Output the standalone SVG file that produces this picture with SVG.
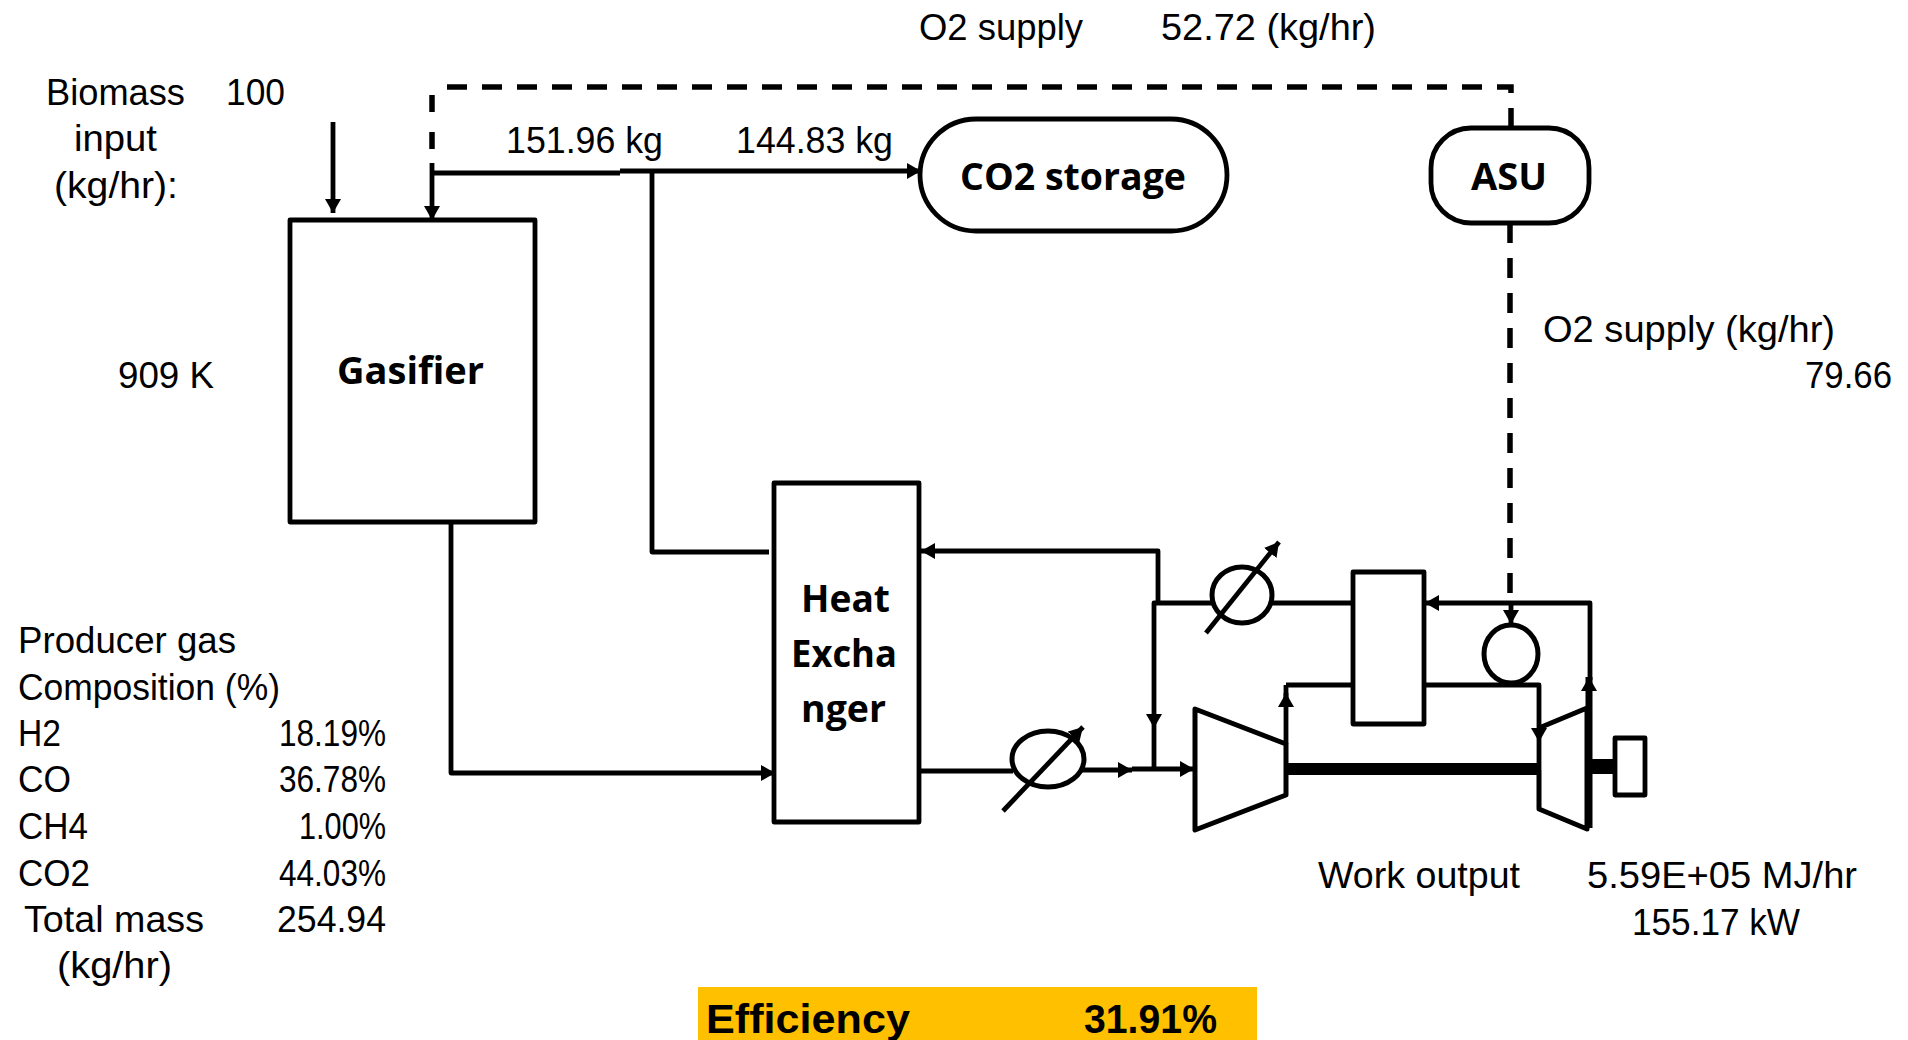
<svg xmlns="http://www.w3.org/2000/svg" width="1908" height="1040" viewBox="0 0 1908 1040">
<style>
.n{fill:#fff;stroke:#000;stroke-width:4.8;stroke-linejoin:round}
.h{fill:none;stroke:#000;stroke-width:5;stroke-linejoin:round}
.c{fill:none;stroke:#000;stroke-width:4.8;stroke-linejoin:round}
.d{fill:none;stroke:#000;stroke-width:5.5;stroke-dasharray:20 15}
.t{font-family:"Liberation Sans",sans-serif;font-size:37px;fill:#000}
.b{font-family:"Open Sans",sans-serif;font-size:38px;font-weight:700;fill:#000}
.e{font-family:"Liberation Sans",sans-serif;font-size:41px;font-weight:700;fill:#000}
</style>
<defs>
<marker id="a" markerUnits="userSpaceOnUse" markerWidth="16" markerHeight="16" refX="14" refY="8" orient="auto"><path d="M0 0L14 8L0 16Z" fill="#000"/></marker>
</defs>
<g id="connectors">
<path class="d" d="M1511 128V87H441"/>
<path class="d" style="stroke-dasharray:17 20" d="M432 95V165"/>
<path class="c" d="M432 163V220" marker-end="url(#a)"/>
<path class="c" d="M333 122V213" marker-end="url(#a)"/>
<path class="c" d="M432 173H620"/>
<path class="c" d="M620 171H921" marker-end="url(#a)"/>
<path class="c" d="M652 172V552H769"/>
<path class="c" d="M451 522V773H775" marker-end="url(#a)"/>
<path class="c" d="M1158 603V551H921" marker-end="url(#a)"/>
<path class="c" d="M1213 603H1154V728" marker-end="url(#a)"/>
<path class="c" d="M1154 728V768"/>
<path class="c" d="M919 771H1013"/>
<path class="c" d="M1082 770H1132" marker-end="url(#a)"/>
<path class="c" d="M1132 769H1194" marker-end="url(#a)"/>
<path class="d" d="M1510 223V593"/>
<path class="c" d="M1511 605V624" marker-end="url(#a)"/>
<path class="c" d="M1271 603H1353"/>
<path class="c" d="M1590 680V603H1425" marker-end="url(#a)"/>
<path class="c" d="M1286 744V693" marker-end="url(#a)"/>
<path class="c" d="M1286 685V700M1286 685H1353"/>
<path class="c" d="M1424 685H1539V742" marker-end="url(#a)"/>
<path class="c" d="M1539 742V770"/>
<path d="M1589 828V677" fill="none" stroke="#000" stroke-width="7" marker-end="url(#a)"/>
<path d="M1286 769H1540" fill="none" stroke="#000" stroke-width="12"/>
<path d="M1590 766.500H1615" fill="none" stroke="#000" stroke-width="15"/>
</g>
<g id="gasifier"><rect class="n" x="290" y="220" width="245" height="302"/><text class="b" x="337" y="384" textLength="147" lengthAdjust="spacingAndGlyphs">Gasifier</text></g>
<g id="co2-storage"><rect class="n" x="920" y="119" width="307" height="112" rx="56"/><text class="b" x="960" y="190" textLength="226" lengthAdjust="spacingAndGlyphs">CO2 storage</text></g>
<g id="asu"><rect class="n" x="1431" y="128" width="158" height="95" rx="40"/><text class="b" x="1471" y="190" textLength="76" lengthAdjust="spacingAndGlyphs">ASU</text></g>
<g id="heat-exchanger"><rect class="n" x="774" y="483" width="145" height="339"/>
<text class="b" x="801" y="612" textLength="89" lengthAdjust="spacingAndGlyphs">Heat</text>
<text class="b" x="791" y="667" textLength="106" lengthAdjust="spacingAndGlyphs">Excha</text>
<text class="b" x="801" y="722" textLength="85" lengthAdjust="spacingAndGlyphs">nger</text></g>
<g id="cooler-1"><ellipse class="h" cx="1048" cy="759" rx="36" ry="28"/><path class="c" d="M1003 811L1083 727" marker-end="url(#a)"/></g>
<g id="cooler-2"><ellipse class="h" cx="1242" cy="595" rx="30" ry="28"/><path class="c" d="M1206 633L1279 542" marker-end="url(#a)"/></g>
<g id="recuperator"><rect class="n" x="1353" y="572" width="71" height="152"/></g>
<g id="pump"><ellipse class="h" cx="1511" cy="654" rx="27" ry="29"/></g>
<g id="compressor"><path class="h" d="M1195 709L1286 744V795L1195 830Z"/></g>
<g id="turbine"><path class="h" d="M1539 728L1587 708V829L1539 809V770"/></g>
<g id="generator"><rect class="n" x="1615" y="738" width="30" height="57"/></g>
<g id="labels">
<text class="t" x="919" y="40" textLength="164" lengthAdjust="spacingAndGlyphs">O2 supply</text>
<text class="t" x="1161" y="40" textLength="215" lengthAdjust="spacingAndGlyphs">52.72 (kg/hr)</text>
<text class="t" x="46" y="105" textLength="139" lengthAdjust="spacingAndGlyphs">Biomass</text>
<text class="t" x="226" y="105" textLength="59" lengthAdjust="spacingAndGlyphs">100</text>
<text class="t" x="74" y="151" textLength="83" lengthAdjust="spacingAndGlyphs">input</text>
<text class="t" x="54" y="198" textLength="124" lengthAdjust="spacingAndGlyphs">(kg/hr):</text>
<text class="t" x="506" y="153" textLength="157" lengthAdjust="spacingAndGlyphs">151.96 kg</text>
<text class="t" x="736" y="153" textLength="157" lengthAdjust="spacingAndGlyphs">144.83 kg</text>
<text class="t" x="118" y="388" textLength="96" lengthAdjust="spacingAndGlyphs">909 K</text>
<text class="t" x="1543" y="342" textLength="292" lengthAdjust="spacingAndGlyphs">O2 supply (kg/hr)</text>
<text class="t" x="1805" y="388" textLength="87" lengthAdjust="spacingAndGlyphs">79.66</text>
<text class="t" x="18" y="653" textLength="218" lengthAdjust="spacingAndGlyphs">Producer gas</text>
<text class="t" x="18" y="700" textLength="262" lengthAdjust="spacingAndGlyphs">Composition (%)</text>
<text class="t" x="18" y="746" textLength="43" lengthAdjust="spacingAndGlyphs">H2</text>
<text class="t" x="279" y="746" textLength="107" lengthAdjust="spacingAndGlyphs">18.19%</text>
<text class="t" x="18" y="792" textLength="53" lengthAdjust="spacingAndGlyphs">CO</text>
<text class="t" x="279" y="792" textLength="107" lengthAdjust="spacingAndGlyphs">36.78%</text>
<text class="t" x="18" y="839" textLength="70" lengthAdjust="spacingAndGlyphs">CH4</text>
<text class="t" x="299" y="839" textLength="87" lengthAdjust="spacingAndGlyphs">1.00%</text>
<text class="t" x="18" y="886" textLength="72" lengthAdjust="spacingAndGlyphs">CO2</text>
<text class="t" x="279" y="886" textLength="107" lengthAdjust="spacingAndGlyphs">44.03%</text>
<text class="t" x="24" y="932" textLength="180" lengthAdjust="spacingAndGlyphs">Total mass</text>
<text class="t" x="277" y="932" textLength="109" lengthAdjust="spacingAndGlyphs">254.94</text>
<text class="t" x="57" y="978" textLength="115" lengthAdjust="spacingAndGlyphs">(kg/hr)</text>
<text class="t" x="1318" y="888" textLength="202" lengthAdjust="spacingAndGlyphs">Work output</text>
<text class="t" x="1587" y="888" textLength="270" lengthAdjust="spacingAndGlyphs">5.59E+05 MJ/hr</text>
<text class="t" x="1632" y="935" textLength="168" lengthAdjust="spacingAndGlyphs">155.17 kW</text>
</g>
<g id="efficiency">
<rect x="698" y="987" width="559" height="53" fill="#ffc000"/>
<text class="e" x="706" y="1033" textLength="204" lengthAdjust="spacingAndGlyphs">Efficiency</text>
<text class="e" x="1084" y="1033" textLength="133" lengthAdjust="spacingAndGlyphs">31.91%</text>
</g>
</svg>
